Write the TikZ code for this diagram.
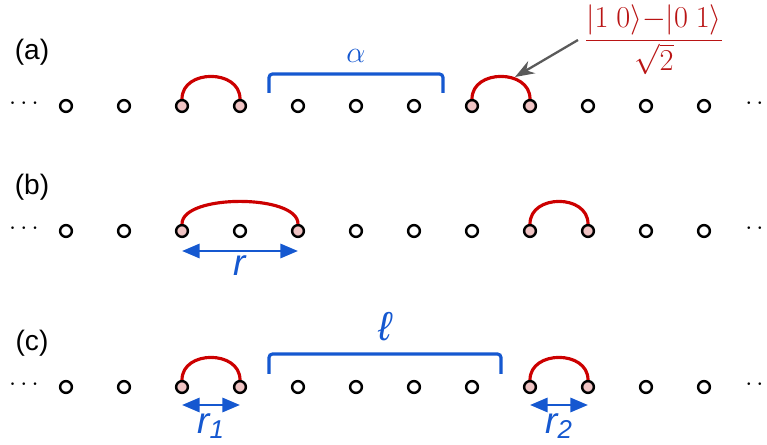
\documentclass[tikz,border=0pt]{standalone}
\usepackage{fontspec}
\setmainfont{Liberation Sans}
\usetikzlibrary{arrows.meta,calc}
\definecolor{bondRed}{RGB}{204,0,0}
\definecolor{siteFill}{RGB}{240,196,196}
\definecolor{braceBlue}{RGB}{21,88,208}
\definecolor{stateRed}{RGB}{185,20,20}
\definecolor{pointerGray}{RGB}{90,90,90}

\begin{document}
\begin{tikzpicture}[
    x=0.02cm, y=-0.02cm,
    % Styles
    site/.style={
        circle,
        draw=black,
        line width=1.4pt,
        fill=white,
        minimum size=0.235cm,
        inner sep=0pt
    },
    paired/.style={site, fill=siteFill},
    bond/.style={draw=bondRed, line width=1.8pt},
    brace/.style={draw=braceBlue, line width=1.8pt, rounded corners=2pt},
    span/.style={
        draw=braceBlue,
        line width=1.6pt,
        {Triangle[length=10pt,width=8pt]}-{Triangle[length=10pt,width=8pt]}
    },
    rowlabel/.style={font=\fontsize{16}{19}\selectfont},
    dots/.style={font=\fontsize{14}{16}\selectfont, inner sep=0pt},
    dist/.style={text=braceBlue, font=\fontsize{21}{24}\selectfont\itshape, inner sep=1pt},
    pointer/.style={-{Stealth[length=11pt,width=8pt]}, draw=pointerGray, line width=1.3pt}
]
    \useasboundingbox (0,0) rectangle (767,445);

    % ---------------------------------------------------------
    % 1. ROW (a)
    % ---------------------------------------------------------
    \node[rowlabel] (labA) at (32,52) {(a)};
    \foreach \k in {1,2,5,6,7,10,11,12}
        \node[site] (a\k) at ({8+58*\k},106) {};
    \foreach \k in {3,4,8,9}
        \node[paired] (a\k) at ({8+58*\k},106) {};
    \node[dots] (aDotsL) at (24,104) {$\cdots$};
    \node[dots] (aDotsR) at (760,104) {$\cdots$};

    % singlet bonds
    \draw[bond] (a3.north) .. controls +(0,-30) and +(0,-30) .. (a4.north);
    \draw[bond] (a8.north) .. controls +(0,-30) and +(0,-30) .. (a9.north);

    % block bracket
    \draw[brace] ($(a4)!0.5!(a5)+(0,-13)$) -- ++(0,-19)
        -| ($(a7)!0.5!(a8)+(0,-13)$);
    \node[text=braceBlue, font=\fontsize{19}{22}\selectfont] (alpha)
        at ($(a6)+(0,-50)$) {$\alpha$};

    % singlet state
    \node[text=stateRed, font=\fontsize{16}{18}\selectfont] (bell) at (654,40)
        {$\displaystyle\frac{|1\ 0\rangle{-}|0\ 1\rangle}{\sqrt{2}}$};
    \coordinate (bondTip) at ($(a9)+(-15,-29)$);
    \draw[pointer] (bell.west) -- (bondTip);

    % ---------------------------------------------------------
    % 2. ROW (b)
    % ---------------------------------------------------------
    \node[rowlabel] (labB) at (32,187) {(b)};
    \foreach \k in {1,2,4,6,7,8,11,12}
        \node[site] (b\k) at ({8+58*\k},231) {};
    \foreach \k in {3,5,9,10}
        \node[paired] (b\k) at ({8+58*\k},231) {};
    \node[dots] (bDotsL) at (24,229) {$\cdots$};
    \node[dots] (bDotsR) at (760,229) {$\cdots$};

    \draw[bond] (b3.north) .. controls +(0,-30) and +(0,-30) .. (b5.north);
    \draw[bond] (b9.north) .. controls +(0,-30) and +(0,-30) .. (b10.north);

    \draw[span] ($(b3)+(0,20)$) -- node[dist, below=1pt] (rLab) {r} ($(b5)+(0,20)$);

    % ---------------------------------------------------------
    % 3. ROW (c)
    % ---------------------------------------------------------
    \node[rowlabel] (labC) at (32,343) {(c)};
    \foreach \k in {1,2,5,6,7,8,11,12}
        \node[site] (c\k) at ({8+58*\k},387) {};
    \foreach \k in {3,4,9,10}
        \node[paired] (c\k) at ({8+58*\k},387) {};
    \node[dots] (cDotsL) at (24,385) {$\cdots$};
    \node[dots] (cDotsR) at (760,385) {$\cdots$};

    \draw[bond] (c3.north) .. controls +(0,-30) and +(0,-30) .. (c4.north);
    \draw[bond] (c9.north) .. controls +(0,-30) and +(0,-30) .. (c10.north);

    % gap bracket
    \draw[brace] ($(c4)!0.5!(c5)+(0,-13)$) -- ++(0,-20)
        -| ($(c8)!0.5!(c9)+(0,-13)$);
    \node[dist, font=\fontsize{23}{26}\selectfont\itshape] (ell)
        at ($(c6)!0.5!(c7)+(0,-60)$) {ℓ};

    \draw[span] ($(c3)+(0,18)$) -- node[dist, below=3pt] (rOne) {r\textsubscript{1}} ($(c4)+(0,18)$);
    \draw[span] ($(c9)+(0,18)$) -- node[dist, below=3pt] (rTwo) {r\textsubscript{2}} ($(c10)+(0,18)$);

\end{tikzpicture}
\end{document}
